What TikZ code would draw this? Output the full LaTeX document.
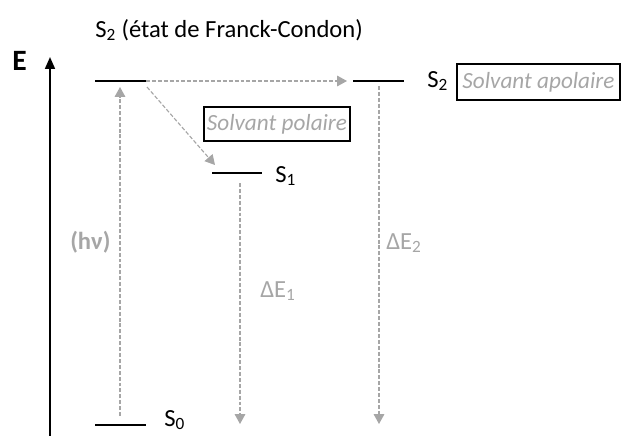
\documentclass[tikz,border=0pt]{standalone}
\usepackage{fontspec}
\setmainfont{Carlito}
\usepackage{tikz}
\usetikzlibrary{arrows.meta,positioning}
\definecolor{solv_grey}{RGB}{166,166,166}

\begin{document}
\begin{tikzpicture}[x=0.025cm, y=-0.025cm,
    font=\fontsize{17.5}{20}\selectfont,
    level/.style={black, line width=1.5pt},
    trans/.style={solv_grey, line width=0.8pt, dash pattern=on 2.8pt off 1.4pt,
      -{Triangle[length=7pt,width=7.5pt]}},
    solvbox/.style={text=solv_grey, draw=black, line width=1.4pt,
      font=\fontsize{16.5}{20}\selectfont\itshape, inner sep=0pt}]
  \clip (0,0) rectangle (623,435);
  \useasboundingbox (0,0) rectangle (623,435);
  % axe des energies
  \coordinate (axB) at (50,440);
  \coordinate (axT) at (50,57);
  \draw[line width=1.5pt,-{Triangle[length=8.5pt,width=7pt]}] (axB) -- (axT);
  \node[anchor=base west,inner sep=0pt,font=\fontsize{21}{24}\selectfont\bfseries] (eLab) at (12,70) {E};
  \node[anchor=base west,inner sep=0pt] (title) at (95,37) {S\textsubscript{2} (état de Franck-Condon)};
  % niveaux
  \coordinate (fcL) at (95,81);   \coordinate (fcR) at (146,81);
  \coordinate (s1L) at (212,173); \coordinate (s1R) at (262,173);
  \coordinate (s2L) at (353,81);  \coordinate (s2R) at (404,81);
  \coordinate (s0L) at (95,425);  \coordinate (s0R) at (146,425);
  \draw[level] (fcL) -- (fcR);
  \draw[level] (s1L) -- (s1R);
  \draw[level] (s2L) -- (s2R);
  \draw[level] (s0L) -- (s0R);
  \node[anchor=base west,inner sep=0pt] (s2Lab) at (427,87) {S\textsubscript{2}};
  \node[anchor=base west,inner sep=0pt] (s1Lab) at (275,182) {S\textsubscript{1}};
  \node[anchor=base west,inner sep=0pt] (s0Lab) at (164,426) {S\textsubscript{0}};
  % transitions
  \coordinate (hvA) at (120,416);  \coordinate (hvB) at (120,87);
  \coordinate (relA) at (147,87);  \coordinate (relB) at (215,165);
  \coordinate (hzB) at (347,81);
  \coordinate (e1A) at (240,183);  \coordinate (e1B) at (240,424);
  \coordinate (e2A) at (379,86);   \coordinate (e2B) at (379,424);
  \draw[trans] (hvA) -- (hvB);
  \draw[trans] (relA) -- (relB);
  \draw[trans] (fcR) -- (hzB);
  \draw[trans] (e1A) -- (e1B);
  \draw[trans] (e2A) -- (e2B);
  \node[anchor=base west,inner sep=0pt,solv_grey] (hvLab) at (70,249) {\bfseries (hν)};
  \node[anchor=base west,inner sep=0pt,solv_grey] (e1Lab) at (260,297) {ΔE\textsubscript{1}};
  \node[anchor=base west,inner sep=0pt,solv_grey] (e2Lab) at (386,249) {ΔE\textsubscript{2}};
  % solvants
  \node[solvbox, minimum width=103.8pt, minimum height=24.2pt] (polaire) at (277,124) {Solvant polaire};
  \node[solvbox, minimum width=115.9pt, minimum height=25.6pt] (apolaire) at (538.5,82) {Solvant apolaire};
\end{tikzpicture}
\end{document}
